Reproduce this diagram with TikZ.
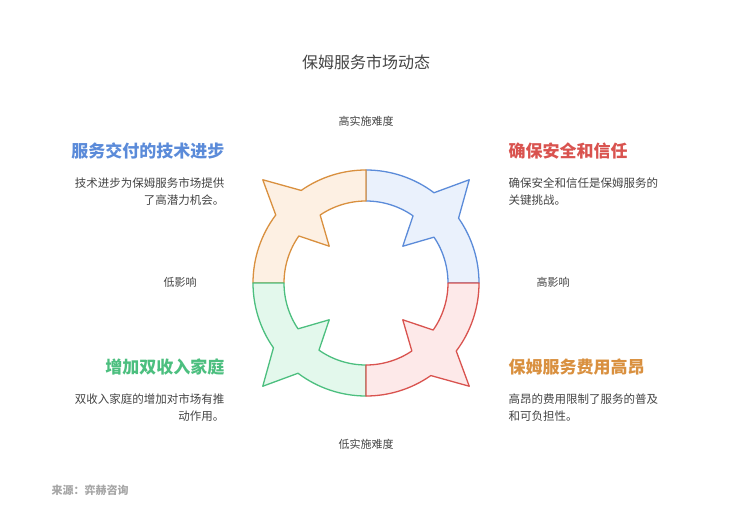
\documentclass[tikz,border=0pt]{standalone}
\usepackage{fontspec}
\setmainfont{Noto Sans CJK SC}
\definecolor{bluel}{HTML}{5B8BD9}\definecolor{bluef}{HTML}{EAF1FC}
\definecolor{orgl}{HTML}{D9903F}\definecolor{orgf}{HTML}{FDF0E3}
\definecolor{grnl}{HTML}{4CBF7F}\definecolor{grnf}{HTML}{E3F8EC}
\definecolor{redl}{HTML}{D9534F}\definecolor{redf}{HTML}{FDE9E9}
\definecolor{txt}{HTML}{444444}
\tikzset{
  axislabel/.style={font=\fontsize{11}{13}\selectfont,text=txt},
  heading/.style={font=\fontsize{17}{20}\selectfont\bfseries},
  desc/.style={font=\fontsize{11.5}{17}\selectfont,text=txt},
}
\begin{document}
\begin{tikzpicture}[x=1pt,y=-1pt]
  \useasboundingbox (0,0) rectangle (735,518);
  % Title
  \node[font=\fontsize{16}{18}\selectfont,text=txt] (title) at (366,62) {保姆服务市场动态};
  % Ring
  \begin{scope}[shift={(366,283)},line width=1.3pt,line join=round]
    \foreach \o/\col in {0/blue,90/org,180/grn,270/red} {
      \pgfmathsetmacro\a{-90-\o}\pgfmathsetmacro\b{-53-\o}
      \pgfmathsetmacro\t{-45-\o}\pgfmathsetmacro\e{-35-\o}
      \pgfmathsetmacro\f{-\o}\pgfmathsetmacro\g{-34-\o}
      \pgfmathsetmacro\h{-55-\o}
      \draw[draw=\col l,fill=\col f] (\a:113) arc[start angle=\a,end angle=\b,radius=113]
        -- (\t:146) -- (\e:113) arc[start angle=\e,end angle=\f,radius=113]
        -- (\f:82) arc[start angle=\f,end angle=\g,radius=82]
        -- (\t:52) -- (\h:82) arc[start angle=\h,end angle=\a,radius=82] -- cycle;
    }
  \end{scope}
  % Axis labels
  \node[axislabel] (hard) at (366,121) {高实施难度};
  \node[axislabel] (easy) at (366,444) {低实施难度};
  \node[axislabel] (low) at (180,282) {低影响};
  \node[axislabel] (high) at (553,282) {高影响};
  % Quadrants
  \node[heading,text=bluel,anchor=east] (tech) at (228,151) {服务交付的技术进步};
  \node[desc,anchor=north east,align=right] (techd) at (228,174) {技术进步为保姆服务市场提供\\了高潜力机会。};
  \node[heading,text=redl,anchor=west] (safe) at (505,151) {确保安全和信任};
  \node[desc,anchor=north west,align=left] (safed) at (505,174) {确保安全和信任是保姆服务的\\关键挑战。};
  \node[heading,text=grnl,anchor=east] (dual) at (228,367) {增加双收入家庭};
  \node[desc,anchor=north east,align=right] (duald) at (228,390) {双收入家庭的增加对市场有推\\动作用。};
  \node[heading,text=orgl,anchor=west] (cost) at (505,367) {保姆服务费用高昂};
  \node[desc,anchor=north west,align=left] (costd) at (505,390) {高昂的费用限制了服务的普及\\和可负担性。};
  % Source
  \node[font=\fontsize{11}{13}\selectfont\bfseries,text=gray!70,anchor=west] (src) at (48,490) {来源：弈赫咨询};
\end{tikzpicture}
\end{document}
